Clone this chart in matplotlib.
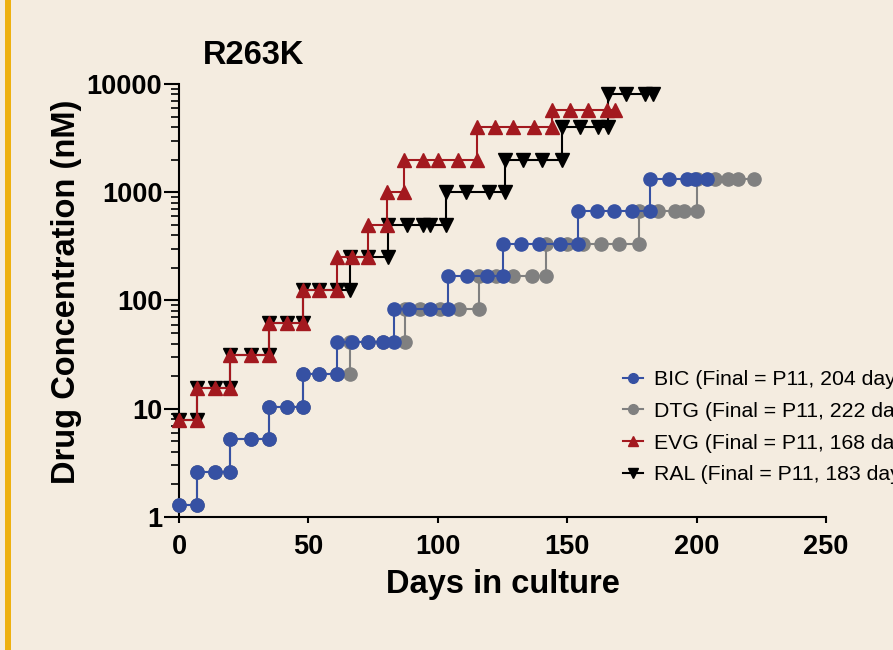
import numpy as np
import matplotlib.pyplot as plt
from matplotlib.lines import Line2D
from matplotlib.patches import Rectangle
from matplotlib.ticker import FixedLocator, FixedFormatter, LogLocator, NullFormatter

plt.rcParams['font.family'] = ['Liberation Sans', 'DejaVu Sans']

# passage days and drug concentrations (nM)
bic_days = [0, 6.8, 6.8, 13.9, 19.7, 19.7, 27.8, 34.8, 34.8, 41.9, 48, 48, 54.1, 60.9,
            60.9, 66.7, 73.2, 79, 83.1, 83.1, 88.9, 97, 104, 104, 111.2, 119.1, 125.1,
            125.1, 132, 139, 147.2, 154.3, 154.3, 161.4, 168.2, 175.2, 182.1,
            182.1, 189.2, 196.2, 199.4, 204.1]
bic_conc = [1.3, 1.3, 2.6, 2.6, 2.6, 5.2, 5.2, 5.2, 10.4, 10.4, 10.4, 20.8, 20.8, 20.8,
            41.7, 41.7, 41.7, 41.7, 41.7, 83, 83, 83, 83, 167, 167, 167, 167,
            333, 333, 333, 333, 333, 667, 667, 667, 667, 667,
            1333, 1333, 1333, 1333, 1333]

dtg_days = [0, 6.8, 6.8, 13.9, 19.7, 19.7, 27.8, 34.8, 34.8, 41.9, 48, 48, 54.1, 60.9,
            66.1, 66.1, 73.2, 79, 87.3, 87.3, 93, 101, 108.3, 116, 116, 122.7, 129.2,
            136.3, 142, 142, 149.8, 156.2, 163.1, 170.1, 177.9, 177.9, 185.2, 191.7,
            195.1, 200, 200, 207.1, 212.3, 216.1, 222.2]
dtg_conc = [1.3, 1.3, 2.6, 2.6, 2.6, 5.2, 5.2, 5.2, 10.4, 10.4, 10.4, 20.8, 20.8, 20.8,
            20.8, 41.7, 41.7, 41.7, 41.7, 83, 83, 83, 83, 83, 167, 167, 167,
            167, 167, 333, 333, 333, 333, 333, 333, 667, 667, 667,
            667, 667, 1333, 1333, 1333, 1333, 1333]

evg_days = [0, 6.8, 6.8, 13.9, 19.7, 19.7, 27.8, 34.8, 34.8, 41.9, 48, 48, 54.1, 60.9,
            60.9, 66.7, 73.2, 73.2, 80.2, 80.2, 87.1, 87.1, 94.2, 100.2, 107.9, 115,
            115, 122.1, 129.2, 137.2, 144, 144, 151.1, 158.2, 165.3, 168.5]
evg_conc = [7.8, 7.8, 15.6, 15.6, 15.6, 31.3, 31.3, 31.3, 62.5, 62.5, 62.5, 125, 125, 125,
            250, 250, 250, 500, 500, 1000, 1000, 2000, 2000, 2000, 2000, 2000,
            4000, 4000, 4000, 4000, 4000, 5700, 5700, 5700, 5700, 5700]

ral_days = [0, 6.8, 6.8, 13.9, 19.7, 19.7, 27.8, 34.8, 34.8, 41.9, 48, 48, 54.1, 60.9,
            66.1, 66.1, 73.2, 80.9, 80.9, 88, 94.2, 97, 103, 103, 110.9, 119.9, 126,
            126, 133, 140.1, 148.1, 148.1, 154.9, 162, 165.9, 165.9, 172.9, 180, 183.3]
ral_conc = [7.8, 7.8, 15.6, 15.6, 15.6, 31.3, 31.3, 31.3, 62.5, 62.5, 62.5, 125, 125, 125,
            125, 250, 250, 250, 500, 500, 500, 500, 500, 1000, 1000, 1000, 1000,
            2000, 2000, 2000, 2000, 4000, 4000, 4000, 4000, 8000, 8000, 8000, 8000]

labels = ['BIC (Final = P11, 204 days)', 'DTG (Final = P11, 222 days)',
          'EVG (Final = P11, 168 days)', 'RAL (Final = P11, 183 days)']
colors = ['#3651a3', '#808080', '#a3191f', '#000000']
markers = ['o', 'o', '^', 'v']

bg = '#f4ece0'
fig = plt.figure(figsize=(8.93, 6.5), dpi=100, facecolor=bg)
fig.patches.append(Rectangle((0.006, 0), 0.006, 1, transform=fig.transFigure,
                             facecolor='#eeb111', edgecolor='none'))
ax = fig.add_axes([0.2004, 0.2046, 0.7245, 0.6662])
ax.set_facecolor(bg)

series = [(ral_days, ral_conc, 3), (dtg_days, dtg_conc, 4),
          (evg_days, evg_conc, 5), (bic_days, bic_conc, 6)]
idx = [3, 1, 2, 0]
for (d, c, z), i in zip(series, idx):
    ms = 9.5 if markers[i] == 'o' else 10
    ax.plot(d, c, color=colors[i], marker=markers[i], ms=ms, lw=1.5,
            mec=colors[i], zorder=z, clip_on=False)

ax.set_yscale('log')
ax.set_xlim(0, 250)
ax.set_ylim(1, 10000)

for s in ['top', 'right']:
    ax.spines[s].set_visible(False)
for s in ['left', 'bottom']:
    ax.spines[s].set_linewidth(1.5)

ax.xaxis.set_major_locator(FixedLocator([0, 50, 100, 150, 200, 250]))
ax.yaxis.set_major_locator(FixedLocator([1, 10, 100, 1000, 10000]))
ax.yaxis.set_major_formatter(FixedFormatter(['1', '10', '100', '1000', '10000']))
ax.yaxis.set_minor_locator(LogLocator(base=10, subs=np.arange(2, 10)))
ax.yaxis.set_minor_formatter(NullFormatter())
ax.tick_params(axis='y', which='major', length=11, width=1.5, pad=1)
ax.tick_params(axis='y', which='minor', length=6, width=1.2)
ax.tick_params(axis='x', which='major', length=4.5, width=1.5, pad=8)
for lab in ax.get_xticklabels() + ax.get_yticklabels():
    lab.set_fontsize(19.5)
    lab.set_fontweight('bold')

ax.set_xlabel('Days in culture', fontsize=23.5, fontweight='bold', labelpad=6)
ax.set_ylabel('Drug Concentration (nM)', fontsize=23.5, fontweight='bold')
ax.yaxis.set_label_coords(-0.15, 0.52)
fig.text(0.2273, 0.89, 'R263K', fontsize=23.5, fontweight='bold', ha='left', va='bottom')

# legend runs off the right edge of the figure, as in the original panel
handles = [Line2D([], [], color=colors[i], marker=markers[i], ms=7, lw=1.5)
           for i in range(4)]
leg = fig.legend(handles, labels, loc='upper left', bbox_to_anchor=(0.6977, 0.4305),
                 frameon=False, fontsize=15.3, handlelength=0.94, handletextpad=0.52,
                 labelspacing=0.6, borderpad=0, borderaxespad=0)

fig.savefig('out.png', dpi=100, facecolor=bg)
